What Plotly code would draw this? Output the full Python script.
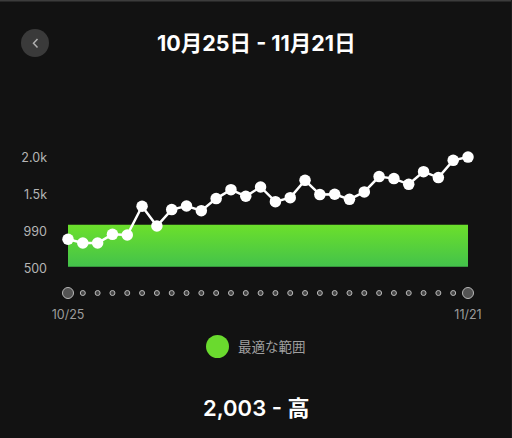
import pandas as pd
import plotly.graph_objects as go

# 日付 (10/25 - 11/21) と日ごとの値
DATES = pd.date_range("2023-10-25", "2023-11-21", freq="D")
DAILY_VALUES = [892, 842, 842, 959, 950, 1338, 1072, 1293, 1342, 1279,
                1442, 1563, 1473, 1599, 1401, 1455, 1689, 1496, 1500, 1432,
                1532, 1739, 1712, 1635, 1806, 1726, 1959, 2003]
# 最適な範囲
BAND_LOW = 520
BAND_HIGH = 1090
Y_TICK_VALS = [500, 990, 1500, 2000]
Y_TICK_TEXT = ["500", "990", "1.5k", "2.0k"]
DATE_LABELS = ["10/25", "11/21"]

TITLE = "10月25日 - 11月21日"
LEGEND_TEXT = "最適な範囲"
SUMMARY = "2,003 - 高"

W, H = 512, 438
BG = "#121212"
FONT = "Inter, Noto Sans CJK JP, sans-serif"


def py(px):
    """ピクセル(上から)を paper 座標へ"""
    return 1 - px / H


def px_x(px):
    return px / W


fig = go.Figure()

# 最適な範囲 (グラデーション)
fig.add_trace(go.Scatter(
    x=[DATES[0], DATES[-1], DATES[-1], DATES[0], DATES[0]],
    y=[BAND_LOW, BAND_LOW, BAND_HIGH, BAND_HIGH, BAND_LOW],
    fill="toself", mode="none",
    fillgradient=dict(type="vertical",
                      colorscale=[[0, "#43c24b"], [1, "#6ce02b"]]),
    hoverinfo="skip", showlegend=False,
))

# 日ごとの値
fig.add_trace(go.Scatter(
    x=DATES, y=DAILY_VALUES, mode="lines+markers",
    line=dict(color="white", width=2.5),
    marker=dict(color="white", size=11.5),
    cliponaxis=False, showlegend=False,
))

# 下の日付ドット
dot_sizes = [11 if i in (0, len(DATES) - 1) else 5 for i in range(len(DATES))]
dot_colors = ["#6f6f6f" if i in (0, len(DATES) - 1) else "#5a5a5a" for i in range(len(DATES))]
fig.add_trace(go.Scatter(
    x=DATES, y=[0.5] * len(DATES), mode="markers",
    marker=dict(color=dot_colors, size=dot_sizes),
    xaxis="x2", yaxis="y2", cliponaxis=False, showlegend=False,
))

x_dom = [px_x(68), px_x(468)]
fig.update_layout(
    width=W, height=H,
    margin=dict(l=0, r=0, t=0, b=0, autoexpand=False),
    paper_bgcolor=BG, plot_bgcolor=BG,
    font=dict(family=FONT),
    xaxis=dict(domain=x_dom, range=[DATES[0], DATES[-1]], visible=False),
    yaxis=dict(domain=[py(275.7), py(149.9)], range=[400, 2100],
               tickvals=Y_TICK_VALS, ticktext=Y_TICK_TEXT,
               showgrid=False, zeroline=False, showline=False,
               ticklabelstandoff=20,
               tickfont=dict(color="#b5b5b5", size=12.5)),
    xaxis2=dict(domain=x_dom, range=[DATES[0], DATES[-1]], anchor="y2",
                tickvals=[DATES[0], DATES[-1]], ticktext=DATE_LABELS,
                showgrid=False, zeroline=False, showline=False,
                ticklabelstandoff=6,
                tickfont=dict(color="#9c9c9c", size=12.5)),
    yaxis2=dict(domain=[py(299), py(287)], range=[0, 1], visible=False),
    showlegend=False,
)


def label(text, x, y, size, color, xanchor="center", weight="normal"):
    fig.add_annotation(text=text, x=px_x(x), y=py(y), xanchor=xanchor,
                       yanchor="middle", xref="paper", yref="paper",
                       showarrow=False,
                       font=dict(color=color, size=size, weight=weight))


# タイトル
label(TITLE, 256, 43, 21.5, "white", weight="bold")

# 戻るボタン
fig.add_shape(type="circle", xref="paper", yref="paper",
              x0=px_x(21), x1=px_x(49), y0=py(57), y1=py(29),
              fillcolor="#3a3a3a", line=dict(width=0))
fig.add_shape(type="path", xref="paper", yref="paper",
              path=f"M {px_x(37.5)} {py(39)} L {px_x(33.5)} {py(43.3)} L {px_x(37.5)} {py(47.5)}",
              line=dict(color="#b0b0b0", width=1.5))

# 凡例
fig.add_shape(type="circle", xref="paper", yref="paper",
              x0=px_x(206), x1=px_x(229), y0=py(358), y1=py(335),
              fillcolor="#6ada2e", line=dict(width=0))
label(LEGEND_TEXT, 236, 347, 13.5, "#a0a0a0", xanchor="left")

# サマリー
label(SUMMARY, 256, 408, 22, "white", weight=600)

# 上端と右端の細い線
fig.add_shape(type="rect", xref="paper", yref="paper",
              x0=0, x1=1, y0=py(1.5), y1=1,
              fillcolor="#3c3c3c", line=dict(width=0))
fig.add_shape(type="rect", xref="paper", yref="paper",
              x0=px_x(511), x1=1, y0=0, y1=1,
              fillcolor="#1c1c1c", line=dict(width=0))

fig.write_html("out.html",
               config={"displayModeBar": False},
               post_script="document.body.style.margin='0';"
                           "document.body.style.background='#121212';")
